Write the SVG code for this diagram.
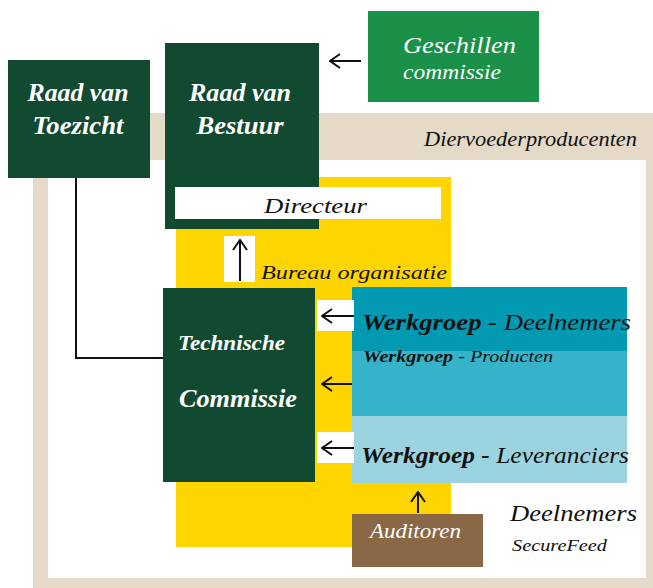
<svg xmlns="http://www.w3.org/2000/svg" width="653" height="588" viewBox="0 0 653 588">
<defs>
<style>
.t{font-family:"Liberation Serif","Times New Roman",serif;font-style:italic}
.w{fill:#fff}
.b{font-weight:bold}
.dg{fill:#114A30}
.ln{stroke:#111;stroke-width:2;fill:none}
</style>
<marker id="ah" viewBox="0 0 12 16" refX="11" refY="8" markerWidth="12" markerHeight="16" markerUnits="userSpaceOnUse" orient="auto">
<polyline points="1,1 11,8 1,15" fill="none" stroke="#111" stroke-width="2"/>
</marker>
</defs>
<rect width="653" height="588" fill="#fff"/>
<g id="frame">
<rect x="33" y="113" width="620" height="475" fill="#E5D9C8"/>
<rect x="48" y="160" width="598" height="418" fill="#fff"/>
<text class="t" x="424" y="146" font-size="22" textLength="213" lengthAdjust="spacingAndGlyphs" fill="#111">Diervoederproducenten</text>
</g>
<g id="bureau">
<rect x="176" y="177" width="275" height="370" fill="#FFD500"/>
<text class="t" x="261" y="279" font-size="19" textLength="186" lengthAdjust="spacingAndGlyphs" fill="#111">Bureau organisatie</text>
</g>
<g id="raad-toezicht">
<rect class="dg" x="8" y="60" width="142" height="118"/>
<text class="t w b" x="78" y="101" font-size="26" textLength="101" lengthAdjust="spacingAndGlyphs" text-anchor="middle">Raad van</text>
<text class="t w b" x="78" y="134" font-size="26" textLength="91" lengthAdjust="spacingAndGlyphs" text-anchor="middle">Toezicht</text>
</g>
<g id="raad-bestuur">
<rect class="dg" x="165" y="43" width="154" height="186"/>
<rect x="175" y="187" width="266" height="32" fill="#fff"/>
<text class="t w b" x="240" y="101" font-size="26" textLength="102" lengthAdjust="spacingAndGlyphs" text-anchor="middle">Raad van</text>
<text class="t w b" x="240" y="134" font-size="26" textLength="87" lengthAdjust="spacingAndGlyphs" text-anchor="middle">Bestuur</text>
<text class="t" x="264" y="213" font-size="22" textLength="103" lengthAdjust="spacingAndGlyphs" fill="#111">Directeur</text>
</g>
<g id="geschillen">
<rect x="368" y="11" width="171" height="91" fill="#1A9048"/>
<text class="t w" x="403" y="53" font-size="23" textLength="113" lengthAdjust="spacingAndGlyphs">Geschillen</text>
<text class="t w" x="403" y="79" font-size="20" textLength="98" lengthAdjust="spacingAndGlyphs">commissie</text>
</g>
<g id="technische">
<rect class="dg" x="163" y="288" width="152" height="194"/>
<text class="t w b" x="178" y="350" font-size="20" textLength="107" lengthAdjust="spacingAndGlyphs">Technische</text>
<text class="t w b" x="179" y="407" font-size="25" textLength="118" lengthAdjust="spacingAndGlyphs">Commissie</text>
</g>
<g id="werkgroepen">
<rect x="352" y="287" width="275" height="64" fill="#019AB2"/>
<rect x="352" y="351" width="275" height="65" fill="#36B3C8"/>
<rect x="352" y="416" width="275" height="67" fill="#9CD3E0"/>
<text class="t" x="362" y="330" font-size="24" textLength="269" lengthAdjust="spacingAndGlyphs" fill="#111"><tspan class="b">Werkgroep</tspan> - Deelnemers</text>
<text class="t" x="363" y="362" font-size="17" textLength="190" lengthAdjust="spacingAndGlyphs" fill="#111"><tspan class="b">Werkgroep</tspan> - Producten</text>
<text class="t" x="361" y="463" font-size="24" textLength="268" lengthAdjust="spacingAndGlyphs" fill="#111"><tspan class="b">Werkgroep -</tspan> Leveranciers</text>
</g>
<g id="auditoren">
<rect x="352" y="514" width="131" height="53" fill="#8B6845"/>
<text class="t w" x="370" y="538" font-size="20" textLength="91" lengthAdjust="spacingAndGlyphs">Auditoren</text>
</g>
<g id="deelnemers">
<text class="t" x="510" y="521" font-size="24" textLength="127" lengthAdjust="spacingAndGlyphs" fill="#111">Deelnemers</text>
<text class="t" x="512" y="551" font-size="17" textLength="95" lengthAdjust="spacingAndGlyphs" fill="#111">SecureFeed</text>
</g>
<g id="connectors">
<polyline class="ln" points="76,178 76,358 163,358" stroke-width="1.6"/>
<rect x="224" y="236" width="31" height="46" fill="#fff"/>
<line class="ln" x1="240" y1="281" x2="240" y2="240" marker-end="url(#ah)"/>
<line class="ln" x1="361" y1="61" x2="330" y2="61" marker-end="url(#ah)"/>
<rect x="317" y="300" width="37" height="31" fill="#fff"/>
<line class="ln" x1="354" y1="316" x2="322" y2="316" marker-end="url(#ah)"/>
<line class="ln" x1="352" y1="384" x2="322" y2="384" marker-end="url(#ah)"/>
<rect x="317" y="432" width="37" height="31" fill="#fff"/>
<line class="ln" x1="354" y1="448" x2="322" y2="448" marker-end="url(#ah)"/>
<line class="ln" x1="418" y1="513" x2="418" y2="492" marker-end="url(#ah)"/>
</g>
</svg>
